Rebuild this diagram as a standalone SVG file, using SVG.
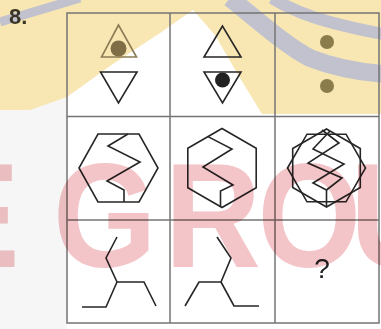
<svg xmlns="http://www.w3.org/2000/svg" width="381" height="329" viewBox="0 0 381 329">
<style>
.grid{fill:none;stroke:#747474;stroke-width:1.5}
.fig{fill:none;stroke:#262626;stroke-width:1.6;stroke-linejoin:miter}
.faded{fill:none;stroke:#8c7c56;stroke-width:1.6}
.dot{fill:#8b7c4b}
.band{fill:none;stroke:#c2c2cf}
.wm{mix-blend-mode:multiply;fill:#f3c5c8;font-family:"Liberation Sans",Arial,sans-serif;font-weight:bold;font-size:148px}
</style>
<rect width="381" height="329" fill="#ffffff"/>
<rect x="0" y="0" width="67" height="329" fill="#f6f6f6"/>
<g id="logo">
<path d="M0,0 H381 V114 H262 L240,78 L215,35 L193,10 L160,33 L110,66 L67,97 L30,110 H0 Z" fill="#f8e7b2"/>
<path class="band" d="M0,22 L80,-2" stroke-width="9"/>
<path class="band" d="M230,-2 C255,18 285,45 310,58 C335,68 360,72 383,74" stroke-width="18"/>
<path class="band" d="M272,-2 C295,12 320,22 383,34" stroke-width="12"/>
</g>
<g id="grid">
<rect class="grid" x="67" y="13" width="312" height="310"/>
<line class="grid" x1="170" y1="13" x2="170" y2="323"/>
<line class="grid" x1="275" y1="13" x2="275" y2="323"/>
<line class="grid" x1="67" y1="116.5" x2="379" y2="116.5"/>
<line class="grid" x1="67" y1="220" x2="379" y2="220"/>
</g>
<text id="number" x="9" y="24" font-family="Liberation Sans,Arial,sans-serif" font-weight="bold" font-size="22" fill="#3a3625">8.</text>
<g id="r1c1">
<polygon class="faded" points="118.5,25 101.5,57 136.5,57"/>
<circle cx="118.5" cy="48.5" r="8" fill="#7f6e45"/>
<polygon class="fig" points="100.5,72 137,72 118.5,103"/>
</g>
<g id="r1c2">
<polygon class="fig" points="222.5,26 204,57 241,57"/>
<polygon class="fig" points="204,72 241,72 222.5,103"/>
<circle cx="222.5" cy="80" r="7.5" fill="#222222"/>
</g>
<g id="r1c3">
<circle class="dot" cx="327" cy="42" r="7"/>
<circle class="dot" cx="327" cy="86" r="7"/>
</g>
<g id="r2c1">
<polygon class="fig" points="98,134 139,134 158,168 139,202 98,202 79,168"/>
<polyline class="fig" points="128,134 108,146 140,162 107,181 124,190 124,202"/>
</g>
<g id="r2c2">
<polygon class="fig" points="222,128.5 256.2,148.2 256.2,187.8 222,207.5 187.8,187.8 187.8,148.2"/>
<polyline class="fig" points="208,136.6 232,149 203,167 233,185 220.5,191 220.5,207"/>
</g>
<g id="r2c3">
<polygon class="fig" points="287.5,168 307,134.2 346,134.2 365.5,168 346,201.8 307,201.8"/>
<polygon class="fig" points="326.5,129 360.3,148.5 360.3,187.5 326.5,207 292.7,187.5 292.7,148.5"/>
<polyline class="fig" points="330,131 313,149 344,164 313,183 326.5,190 326.5,207"/>
<polyline class="fig" points="322,130 339,143 308,163 342,178 326.5,190"/>
</g>
<g id="r3c1">
<polyline class="fig" points="117,237 106,258 117,282 144,282 156,306"/>
<polyline class="fig" points="117,282 106,307 82,307"/>
</g>
<g id="r3c2">
<polyline class="fig" points="217,237 231,258 221,282 199,282 185,306"/>
<polyline class="fig" points="221,282 234,306 259,306"/>
</g>
<g id="r3c3">
<text x="322" y="278" text-anchor="middle" font-family="Liberation Sans,Arial,sans-serif" font-size="28" fill="#222222">?</text>
</g>
<g id="watermark" transform="scale(0.9 1)">
<text class="wm" x="-77" y="267">E</text>
<text class="wm" x="59 183 286 389" y="267">GROU</text>
</g>
</svg>
